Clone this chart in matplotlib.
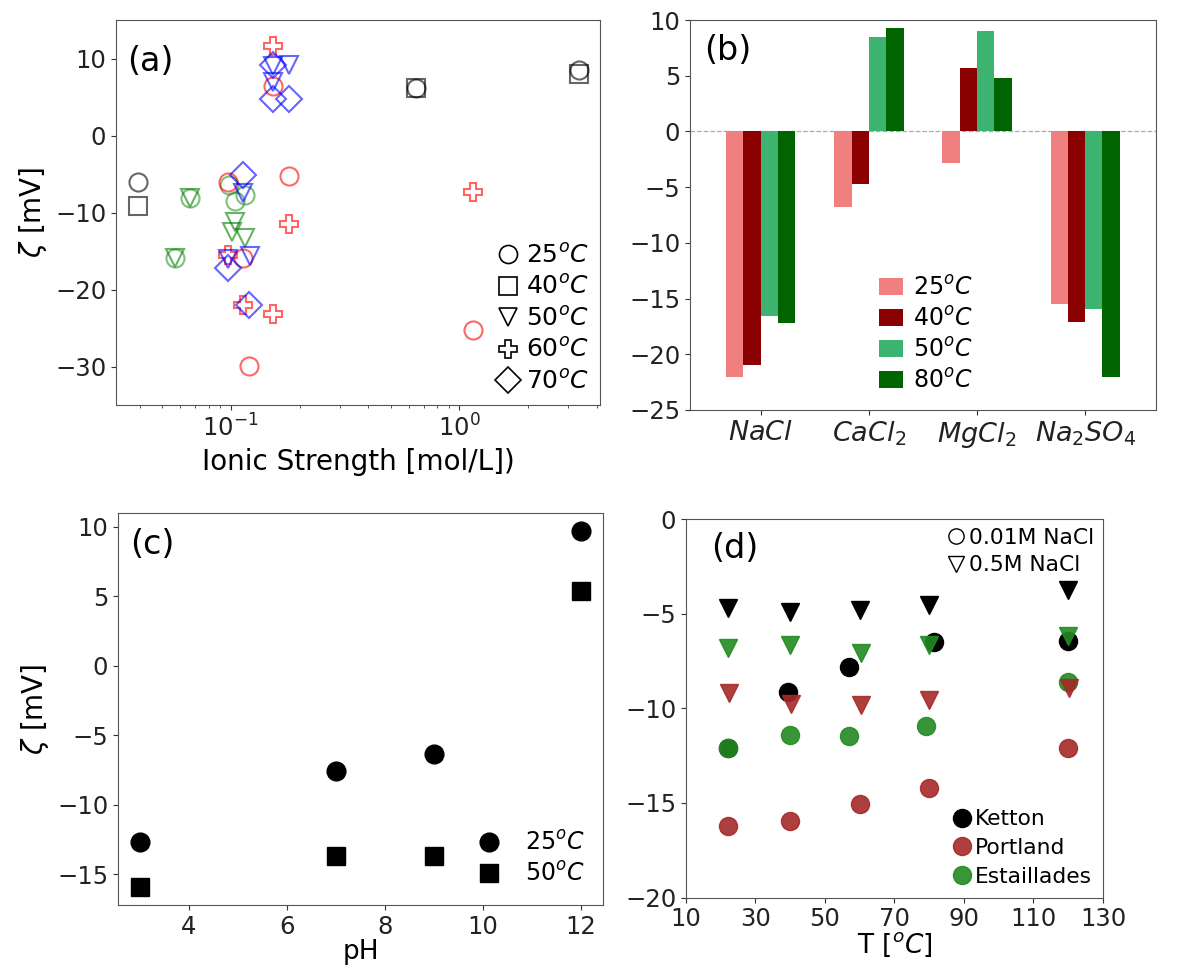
import matplotlib
matplotlib.use("Agg")
import matplotlib.pyplot as plt
from matplotlib.lines import Line2D
import numpy as np

# ---------------- Panel (a) data: ionic strength vs zeta ----------------
a_gray_circle_x = [0.0394, 0.645, 3.34]
a_gray_circle_y = [-6.1, 6.2, 8.5]
a_gray_square_x = [0.0394, 0.645, 3.34]
a_gray_square_y = [-9.2, 6.2, 8.05]

a_red_circle_x = [0.0973, 0.153, 0.180, 0.113, 0.120, 1.15]
a_red_circle_y = [-6.1, 6.4, -5.2, -15.9, -29.9, -25.2]
a_red_plus_x = [0.153, 0.180, 0.0973, 0.113, 0.153, 1.15]
a_red_plus_y = [11.6, -11.5, -15.5, -22.0, -23.2, -7.3]

a_blue_tri_x = [0.153, 0.180, 0.153, 0.113, 0.121, 0.0973]
a_blue_tri_y = [9.0, 9.2, 7.0, -7.5, -15.7, -16.1]
a_blue_dia_x = [0.153, 0.153, 0.180, 0.113, 0.0973, 0.120]
a_blue_dia_y = [9.2, 4.8, 4.8, -5.1, -17.2, -22.0]

a_green_tri_x = [0.0571, 0.0664, 0.1044, 0.1010, 0.1155]
a_green_tri_y = [-15.9, -8.05, -11.2, -12.5, -13.3]
a_green_circle_x = [0.0571, 0.0664, 0.0985, 0.1044, 0.1155]
a_green_circle_y = [-15.9, -8.05, -6.4, -8.5, -7.7]

a_legend_labels = ["25$^oC$", "40$^oC$", "50$^oC$", "60$^oC$", "70$^oC$"]

# ---------------- Panel (b) data: bars by salt ----------------
b_salts = ["$NaCl$", "$CaCl_2$", "$MgCl_2$", "$Na_2SO_4$"]
b_temps = ["25$^oC$", "40$^oC$", "50$^oC$", "80$^oC$"]
b_25 = [-22.0, -6.8, -2.8, -15.5]
b_40 = [-21.0, -4.7, 5.7, -17.1]
b_50 = [-16.6, 8.5, 9.0, -15.9]
b_80 = [-17.2, 9.3, 4.8, -22.0]

# ---------------- Panel (c) data: pH ----------------
c_ph = [3, 7, 9, 12]
c_25 = [-12.7, -7.6, -6.35, 9.7]
c_50 = [-15.95, -13.7, -13.7, 5.4]

# ---------------- Panel (d) data: temperature ----------------
d_ketton_T_low = [22, 39.5, 57, 81.5, 120]
d_ketton_low = [-12.1, -9.15, -7.8, -6.5, -6.45]
d_ketton_T_high = [22, 40, 60, 80, 120]
d_ketton_high = [-4.7, -4.9, -4.8, -4.55, -3.75]

d_port_T_low = [22, 40, 60, 80, 120]
d_port_low = [-16.2, -15.95, -15.05, -14.2, -12.1]
d_port_T_high = [22.5, 40.2, 60.3, 80, 120.2]
d_port_high = [-9.2, -9.75, -9.85, -9.55, -8.95]

d_esta_T_low = [22, 40, 57, 79, 120]
d_esta_low = [-12.1, -11.4, -11.45, -10.95, -8.6]
d_esta_T_high = [22, 40, 60.3, 80, 120]
d_esta_high = [-6.8, -6.65, -7.1, -6.65, -6.2]

TICK = 17.5
LAB = 19
LEG = 17
PAN = 24
plt.rcParams['font.family'] = ['DejaVu Sans']
plt.rcParams['font.size'] = TICK
plt.rcParams['xtick.labelsize'] = TICK
plt.rcParams['ytick.labelsize'] = TICK
plt.rcParams['axes.edgecolor'] = '#555555'
plt.rcParams['xtick.color'] = '#333333'
plt.rcParams['ytick.color'] = '#333333'
plt.rcParams['xtick.labelcolor'] = '#222222'
plt.rcParams['ytick.labelcolor'] = '#222222'

fig = plt.figure(figsize=(11.79, 9.72), dpi=100)

axa = fig.add_axes([0.0984, 0.5833, 0.5089 - 0.0984, 0.9794 - 0.5833])
axb = fig.add_axes([0.5852, 0.5782, 0.9805 - 0.5852, 0.9794 - 0.5782])
axc = fig.add_axes([0.1001, 0.0689, 0.5115 - 0.1001, 0.4722 - 0.0689])
axd = fig.add_axes([0.5818, 0.0766, 0.9355 - 0.5818, 0.466 - 0.0766])

# ---------- (a) ----------
ms = 13
mew = 1.5
def op(ax, x, y, marker, color, alpha=0.6, size=ms):
    ax.plot(x, y, linestyle='none', marker=marker, markersize=size,
            markerfacecolor='none', markeredgecolor=color, markeredgewidth=mew,
            alpha=alpha)

op(axa, a_gray_circle_x, a_gray_circle_y, 'o', 'black')
op(axa, a_gray_square_x, a_gray_square_y, 's', 'black')
op(axa, a_green_circle_x, a_green_circle_y, 'o', 'green', 0.5)
op(axa, a_green_tri_x, a_green_tri_y, 'v', 'green', 0.6)
op(axa, a_red_circle_x, a_red_circle_y, 'o', 'red')
op(axa, a_red_plus_x, a_red_plus_y, 'P', 'red')
op(axa, a_blue_tri_x, a_blue_tri_y, 'v', 'blue')
op(axa, a_blue_dia_x, a_blue_dia_y, 'D', 'blue')

axa.set_xscale('log')
axa.set_xlim(0.0315, 4.12)
axa.set_ylim(-35, 15)
axa.set_yticks([10, 0, -10, -20, -30])
axa.set_xlabel("Ionic Strength [mol/L])", fontsize=LAB + 1)
axa.set_ylabel(r"$\zeta$ [mV]", fontsize=LAB + 1)
axa.text(0.022, 0.893, "(a)", transform=axa.transAxes, fontsize=PAN, va='center')
a_handles = [Line2D([], [], linestyle='none', marker=m, markersize=ms,
                    markerfacecolor='none', markeredgecolor='black',
                    markeredgewidth=1.2)
             for m in ['o', 's', 'v', 'P', 'D']]
axa.legend(a_handles, a_legend_labels, loc='lower right', frameon=False,
           fontsize=LEG + 1, handletextpad=0.1, labelspacing=0.3,
           borderaxespad=0.05, handlelength=1.2)

# ---------- (b) ----------
xb = np.arange(len(b_salts))
w = 0.16
cols_b = ['#f08080', '#8b0000', '#3cb371', '#006400']
for i, (vals, col, lab) in enumerate(zip([b_25, b_40, b_50, b_80], cols_b, b_temps)):
    axb.bar(xb + (i - 1.5) * w, vals, width=w, color=col, label=lab)
axb.axhline(0, color='#aaaaaa', lw=0.9, ls='--', zorder=0)
axb.set_xlim(-0.655, 3.655)
axb.set_ylim(-25, 10)
axb.set_yticks([10, 5, 0, -5, -10, -15, -20, -25])
axb.set_xticks(xb)
axb.set_xticklabels(b_salts, fontsize=19.5)
axb.text(0.03, 0.922, "(b)", transform=axb.transAxes, fontsize=PAN, va='center')
axb.legend(loc='lower left', bbox_to_anchor=(0.36, -0.01), frameon=False,
           fontsize=LEG, handlelength=1.0, handleheight=0.72,
           handletextpad=0.45, labelspacing=0.3)

# ---------- (c) ----------
axc.plot(c_ph, c_25, 'o', color='black', markersize=13.5, label="25$^oC$")
axc.plot(c_ph, c_50, 's', color='black', markersize=13.5, label="50$^oC$")
axc.set_xticks([4, 6, 8, 10, 12])
axc.set_yticks([10, 5, 0, -5, -10, -15])
axc.set_xlabel("pH", fontsize=LAB, labelpad=0)
axc.set_ylabel(r"$\zeta$ [mV]", fontsize=LAB + 1)
axc.text(0.025, 0.92, "(c)", transform=axc.transAxes, fontsize=PAN, va='center')
axc.legend(loc='lower right', frameon=False, fontsize=LEG, handletextpad=1.0,
           labelspacing=0.3, borderaxespad=0.4, handlelength=1.0)

# ---------- (d) ----------
c_k = 'black'
c_p = '#a52a2a'
c_e = '#228b22'
msd = 13
axd.plot(d_ketton_T_low, d_ketton_low, 'o', color=c_k, markersize=msd, zorder=2)
axd.plot(d_ketton_T_high, d_ketton_high, 'v', color=c_k, markersize=msd, zorder=2)
axd.plot(d_esta_T_low, d_esta_low, 'o', color=c_e, markersize=msd, alpha=0.9, zorder=3)
axd.plot(d_esta_T_high, d_esta_high, 'v', color=c_e, markersize=msd, alpha=0.9, zorder=3)
axd.plot(d_port_T_low, d_port_low, 'o', color=c_p, markersize=msd, alpha=0.9, zorder=4)
axd.plot(d_port_T_high, d_port_high, 'v', color=c_p, markersize=msd, alpha=0.9, zorder=4)
axd.set_xlim(10, 130)
axd.set_ylim(-20, 0)
axd.set_xticks([10, 30, 50, 70, 90, 110, 130])
axd.set_yticks([0, -5, -10, -15, -20])
axd.set_xlabel("T [$^oC$]", fontsize=LAB, labelpad=0)
axd.text(0.06, 0.923, "(d)", transform=axd.transAxes, fontsize=PAN, va='center')
h1 = [Line2D([], [], linestyle='none', marker='o', markersize=11,
             markerfacecolor='none', markeredgecolor='black', markeredgewidth=1.0),
      Line2D([], [], linestyle='none', marker='v', markersize=11,
             markerfacecolor='none', markeredgecolor='black', markeredgewidth=1.0)]
leg1 = axd.legend(h1, ["0.01M NaCl", "0.5M NaCl"], loc='upper right',
                  frameon=False, fontsize=15.7, handletextpad=0.0,
                  labelspacing=0.35, borderaxespad=0.0, handlelength=1.2)
axd.add_artist(leg1)
h2 = [Line2D([], [], linestyle='none', marker='o', markersize=13, color=c_k),
      Line2D([], [], linestyle='none', marker='o', markersize=13, color=c_p, alpha=0.9),
      Line2D([], [], linestyle='none', marker='o', markersize=13, color=c_e, alpha=0.9)]
axd.legend(h2, ["Ketton", "Portland", "Estaillades"], loc='lower right',
           frameon=False, fontsize=15.7, handletextpad=0.0, labelspacing=0.4,
           borderaxespad=0.1, handlelength=1.2)

fig.savefig("out.png", dpi=100)
